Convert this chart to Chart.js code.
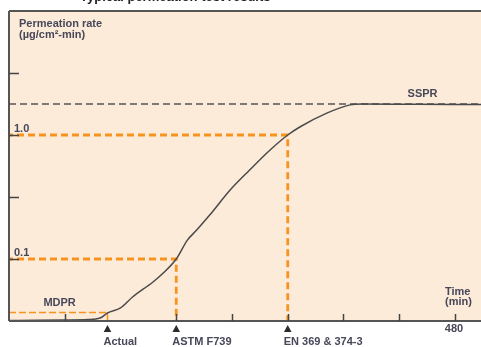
<!DOCTYPE html>
<html>
<head>
<meta charset="utf-8">
<script src="https://cdn.jsdelivr.net/npm/chart.js@4/dist/chart.umd.min.js"></script>
<style>
  html, body { margin: 0; padding: 0; background: #fff; overflow: hidden; }
  canvas { display: block; }
</style>
</head>
<body>
<canvas id="chart" width="481" height="347"></canvas>
<script>
// Permeation curve: elapsed time (min) against permeation rate (µg/cm²·min)
const timeMin = [0, 30, 60, 85, 98, 106, 120, 133, 155, 166, 180, 192, 202, 216, 238, 259, 281, 300, 313, 342, 367, 380, 440, 510];
const rate    = [0.0319, 0.0320, 0.0322, 0.0325, 0.0334, 0.0367, 0.0403, 0.0494, 0.0652, 0.077, 0.1, 0.142, 0.171, 0.226, 0.36, 0.522, 0.757, 1.0, 1.16, 1.5, 1.75, 1.78, 1.77, 1.76];

// Steady-state and minimum detectable permeation rates
const ssprRate = 1.78;
const mdprRate = 0.037;

// Breakthrough definitions: time at which each criterion is reached
const markerLabels = ['Actual', 'ASTM F739', 'EN 369 & 374-3'];
const markerTimes  = [106, 180, 300];
const markerRates  = [mdprRate, 0.1, 1.0];

// Axis ranges and ticks
const xMin = 0, xMax = 508;
const yMin = Math.pow(10, -1.5), yMax = 10;
const xTickValues = [60, 180, 240, 300, 360, 420, 480];
const xTickLabels = ['', '', '', '', '', '', '480'];
const yTickValues = [Math.pow(10, -1), Math.pow(10, -0.5), 1, Math.pow(10, 0.5)];
const yTickLabels = ['0.1', '', '1.0', ''];

const ORANGE = '#f7931e';
const INK = '#47475a';
const AXIS = '#555555';
const FONT = 'bold 11px "Liberation Sans", Arial, sans-serif';

const curve = timeMin.map((t, i) => ({ x: t, y: rate[i] }));

function guide(i) {
  return [
    { x: xMin, y: markerRates[i] },
    { x: markerTimes[i], y: markerRates[i] },
    { x: markerTimes[i], y: yMin }
  ];
}

const frame = {
  id: 'frame',
  beforeDatasetsDraw(chart) {
    const { ctx, chartArea: a } = chart;
    ctx.save();
    ctx.fillStyle = '#fdebd9';
    ctx.fillRect(a.left, a.top, a.right - a.left, a.bottom - a.top);
    ctx.restore();
  },
  afterDatasetsDraw(chart) {
    const { ctx, chartArea: a, scales } = chart;
    const xs = scales.x, ys = scales.y;
    ctx.save();
    // frame: top, left and bottom lines
    ctx.strokeStyle = AXIS;
    ctx.lineWidth = 2;
    ctx.beginPath();
    ctx.moveTo(a.left, a.top); ctx.lineTo(a.right, a.top);
    ctx.moveTo(a.left, a.top); ctx.lineTo(a.left, a.bottom);
    ctx.moveTo(a.left, a.bottom); ctx.lineTo(a.right, a.bottom);
    ctx.stroke();

    // inward ticks
    ctx.lineWidth = 1.5;
    ctx.strokeStyle = '#444';
    ctx.beginPath();
    yTickValues.forEach(v => {
      const y = Math.round(ys.getPixelForValue(v)) + 0.5;
      ctx.moveTo(a.left, y); ctx.lineTo(a.left + 10, y);
    });
    xTickValues.forEach(v => {
      const x = Math.round(xs.getPixelForValue(v)) + 0.5;
      ctx.moveTo(x, a.bottom); ctx.lineTo(x, a.bottom - 7);
    });
    ctx.stroke();

    ctx.font = FONT;
    ctx.fillStyle = INK;
    ctx.textBaseline = 'alphabetic';
    ctx.textAlign = 'left';

    // y tick labels sit just above their ticks, inside the plot
    yTickValues.forEach((v, i) => {
      if (yTickLabels[i]) ctx.fillText(yTickLabels[i], a.left + 5, ys.getPixelForValue(v) - 3);
    });
    // x tick labels below the axis
    ctx.textAlign = 'center';
    xTickValues.forEach((v, i) => {
      if (xTickLabels[i]) ctx.fillText(xTickLabels[i], xs.getPixelForValue(v) - 1, a.bottom + 11);
    });

    // axis titles
    ctx.textAlign = 'left';
    ctx.fillText('Permeation rate', a.left + 10, a.top + 16);
    ctx.fillText('(\u00b5g/cm\u00b2-min)', a.left + 10, a.top + 27);
    ctx.fillText('Time', xs.getPixelForValue(480) - 10, a.bottom - 26);
    ctx.fillText('(min)', xs.getPixelForValue(480) - 10, a.bottom - 16);

    // rate annotations
    ctx.fillText('SSPR', xs.getPixelForValue(429), ys.getPixelForValue(ssprRate) - 7);
    ctx.fillText('MDPR', xs.getPixelForValue(37), ys.getPixelForValue(mdprRate) - 7);

    // breakthrough markers
    markerTimes.forEach((t, i) => {
      const x = xs.getPixelForValue(t);
      ctx.fillStyle = '#2b2b2b';
      ctx.beginPath();
      ctx.moveTo(x, a.bottom + 4);
      ctx.lineTo(x + 3.8, a.bottom + 11);
      ctx.lineTo(x - 3.8, a.bottom + 11);
      ctx.closePath();
      ctx.fill();
      ctx.fillStyle = INK;
      ctx.fillText(markerLabels[i], x - 4, a.bottom + 24);
    });

    // caption, cut by the top edge
    ctx.fillStyle = '#222';
    ctx.font = 'bold 13px "Liberation Sans", Arial, sans-serif';
    ctx.fillText('Typical permeation test results', 80, 1);
    ctx.restore();
  }
};

new Chart(document.getElementById('chart'), {
  type: 'line',
  data: {
    datasets: [
      {
        label: 'SSPR',
        data: [{ x: xMin, y: ssprRate }, { x: xMax, y: ssprRate }],
        borderColor: '#555',
        borderWidth: 1.6,
        borderDash: [7, 4],
        pointRadius: 0,
        clip: false,
        order: 4
      },
      {
        label: 'Actual',
        data: guide(0),
        borderColor: ORANGE,
        borderWidth: 1.5,
        borderDash: [7, 3],
        pointRadius: 0,
        clip: false,
        order: 3
      },
      {
        label: 'ASTM F739',
        data: guide(1),
        borderColor: ORANGE,
        borderWidth: 2.8,
        borderDash: [7, 4],
        borderDashOffset: 3,
        pointRadius: 0,
        clip: false,
        order: 3
      },
      {
        label: 'EN 369 & 374-3',
        data: guide(2),
        borderColor: ORANGE,
        borderWidth: 2.8,
        borderDash: [7, 4],
        borderDashOffset: 3,
        pointRadius: 0,
        clip: false,
        order: 3
      },
      {
        label: 'Permeation rate',
        data: curve,
        borderColor: '#4a4a4a',
        borderWidth: 1.5,
        pointRadius: 0,
        tension: 0.3,
        cubicInterpolationMode: 'monotone',
        order: 1
      }
    ]
  },
  options: {
    responsive: false,
    animation: false,
    events: [],
    layout: { padding: { left: 9, top: 11, right: 0, bottom: 26 } },
    plugins: { legend: { display: false }, title: { display: false }, tooltip: { enabled: false } },
    scales: {
      x: { type: 'linear', min: xMin, max: xMax, display: false },
      y: { type: 'logarithmic', min: yMin, max: yMax, display: false }
    }
  },
  plugins: [frame]
});
</script>
</body>
</html>
